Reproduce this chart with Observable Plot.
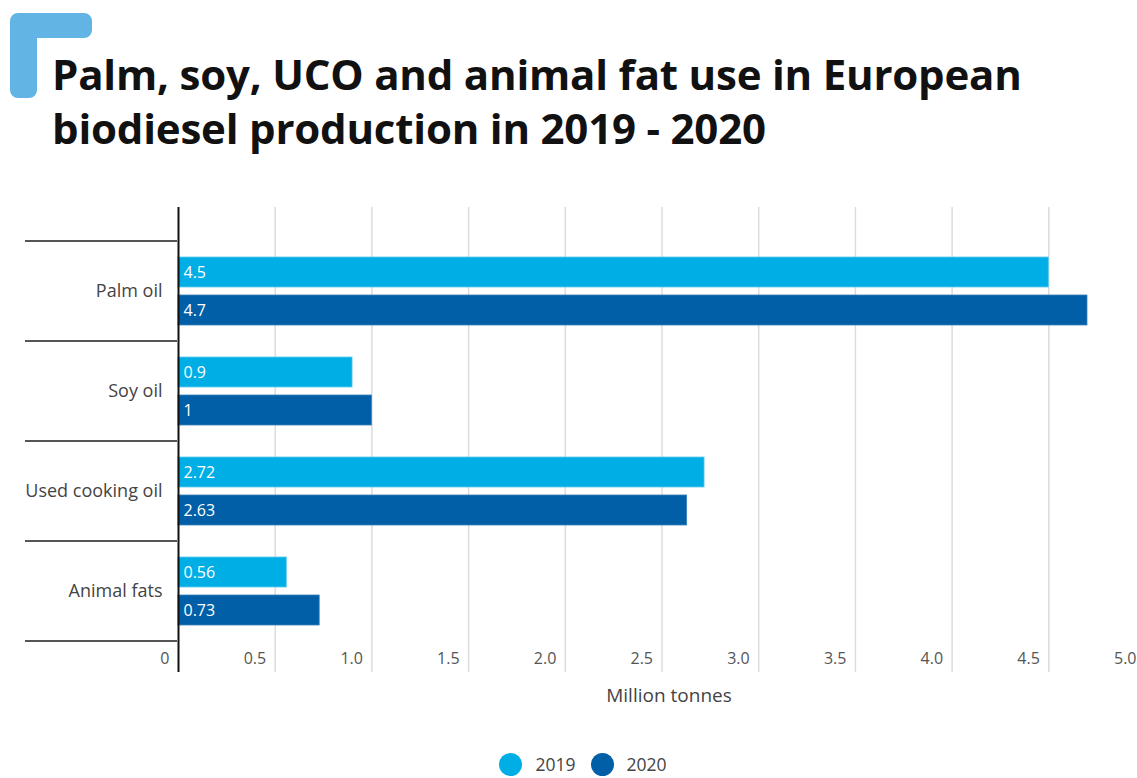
<!DOCTYPE html>
<html>
<head>
<meta charset="utf-8">
<script src="https://cdn.jsdelivr.net/npm/d3@7"></script>
<script src="https://cdn.jsdelivr.net/npm/@observablehq/plot@0.6"></script>
<style>
  html, body { margin: 0; padding: 0; background: #fff; }
  #page { position: relative; width: 1137px; height: 778px; overflow: hidden; font-family: "Open Sans", sans-serif; }
  #bracket { position: absolute; left: 0; top: 0; }
  #title { position: absolute; left: 52px; top: 47px; font-family: "Open Sans", sans-serif; font-weight: 700; font-size: 42px; line-height: 54px; color: #111; white-space: nowrap; letter-spacing: -0.2px; }
  #chart { position: absolute; left: 0; top: 190px; }
  #xlabel { position: absolute; left: 519px; width: 300px; top: 682px; text-align: center; font-size: 19px; color: #444; }
  #legend { position: absolute; left: 0; width: 1137px; top: 752px; display: flex; justify-content: center; align-items: center; font-size: 17.5px; color: #444; padding-left: 44px; box-sizing: border-box; }
  .sw { display: inline-block; width: 23px; height: 23px; border-radius: 50%; margin-right: 13px; }
  .item { display: flex; align-items: center; margin-right: 15px; }
</style>
</head>
<body>
<div id="page">
  <svg id="bracket" width="100" height="100">
    <path d="M18,13 H84 A8,8 0 0 1 92,21 V30 A8,8 0 0 1 84,38 H37 V90 A8,8 0 0 1 29,98 H18 A8,8 0 0 1 10,90 V21 A8,8 0 0 1 18,13 Z" fill="#62b4e4"/>
  </svg>
  <div id="title">Palm, soy, UCO and animal fat use in European<br>biodiesel production in 2019 - 2020</div>
  <div id="chart"></div>
  <div id="xlabel">Million tonnes</div>
  <div id="legend"></div>
</div>
<script>
const categories = ["Palm oil", "Soy oil", "Used cooking oil", "Animal fats"];
const years = ["2019", "2020"];
const values2019 = [4.5, 0.9, 2.72, 0.56];
const values2020 = [4.7, 1, 2.63, 0.73];
const labels2019 = ["4.5", "0.9", "2.72", "0.56"];
const labels2020 = ["4.7", "1", "2.63", "0.73"];
const xTicks = [0, 0.5, 1, 1.5, 2, 2.5, 3, 3.5, 4, 4.5, 5];
const xTickLabels = ["0", "0.5", "1.0", "1.5", "2.0", "2.5", "3.0", "3.5", "4.0", "4.5", "5.0"];
const colors = ["#00aee6", "#005fa6"];

const data2019 = categories.map((c, i) => ({category: c, value: values2019[i], label: labels2019[i]}));
const data2020 = categories.map((c, i) => ({category: c, value: values2020[i], label: labels2020[i]}));

const W = 1137, H = 530;
const plot = Plot.plot({
  width: W,
  height: H,
  marginLeft: 178,
  marginRight: 0,
  marginTop: 17,
  marginBottom: 48,
  style: {fontFamily: '"Open Sans", sans-serif', background: "transparent"},
  x: {domain: [0, 5], range: [178, 1145], axis: null},
  y: {domain: categories, range: [51, 451], padding: 0, axis: null},
  marks: [
    Plot.ruleX(xTicks.filter(d => d > 0), {stroke: "#dcdcdc", strokeWidth: 1.5}),
    Plot.barX(data2019, {x: "value", y: "category", fill: colors[0], insetTop: 16, insetBottom: 54, stroke: "#5cc8ee", strokeWidth: 0.8}),
    Plot.barX(data2020, {x: "value", y: "category", fill: colors[1], insetTop: 54, insetBottom: 16, stroke: "#3a7fb8", strokeWidth: 0.8}),
    Plot.text(data2019, {y: "category", text: "label", frameAnchor: "left", textAnchor: "start", dx: 5, dy: -19, fill: "white", fontSize: 16}),
    Plot.text(data2020, {y: "category", text: "label", frameAnchor: "left", textAnchor: "start", dx: 5, dy: 19, fill: "white", fontSize: 16}),
    Plot.ruleX([0], {stroke: "#111", strokeWidth: 2}),
    Plot.axisX(xTicks, {tickSize: 0, tickPadding: 0, tickFormat: d => xTickLabels[xTicks.indexOf(d)], textAnchor: "end", dx: -9, dy: -20, fontSize: 16, fill: "#555", label: null}),
    Plot.axisY({tickSize: 0, tickPadding: 16, fontSize: 18, fill: "#444", label: null})
  ]
});
document.getElementById("chart").appendChild(plot);

// category separator lines, positioned with the plot's own y scale
const ys = plot.scale("y");
const edges = categories.map(c => ys.apply(c)).concat([ys.apply(categories[categories.length - 1]) + ys.bandwidth]);
const svg = d3.select(plot);
svg.append("g").selectAll("line").data(edges).join("line")
  .attr("x1", 25).attr("x2", 177)
  .attr("y1", d => d).attr("y2", d => d)
  .attr("stroke", "#555").attr("stroke-width", 2);

const legend = d3.select("#legend");
years.forEach((y, i) => {
  const it = legend.append("div").attr("class", "item");
  it.append("span").attr("class", "sw").style("background", colors[i]);
  it.append("span").text(y);
});
</script>
</body>
</html>
